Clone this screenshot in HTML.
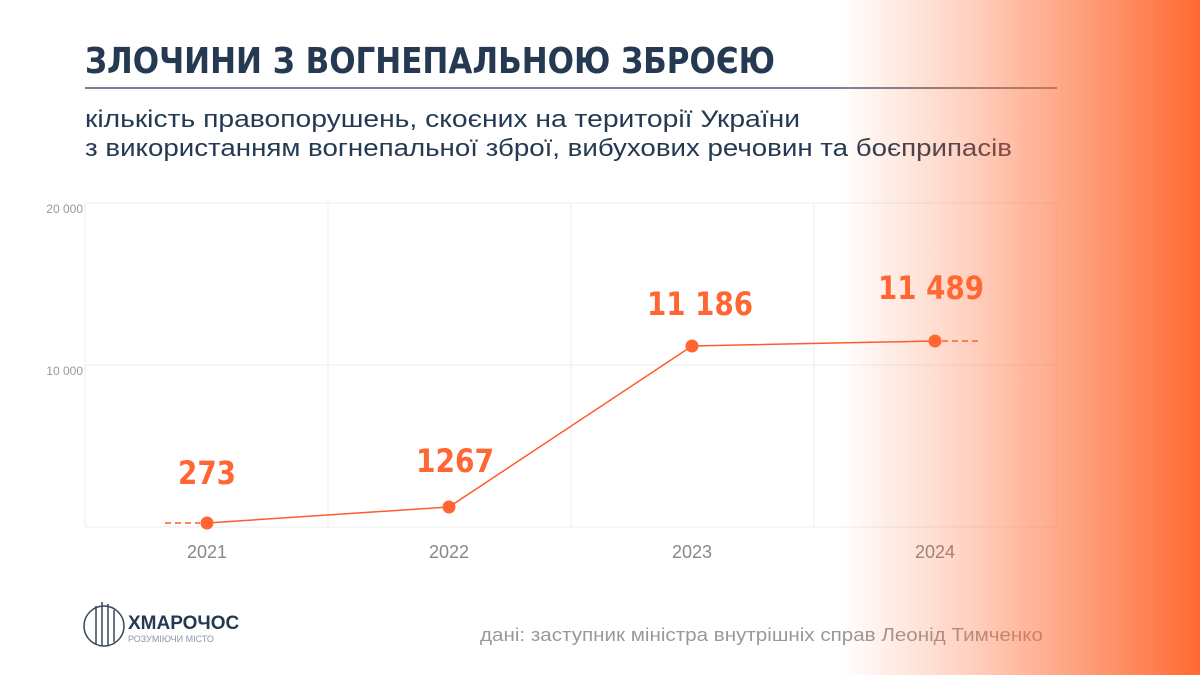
<!DOCTYPE html>
<html><head><meta charset="utf-8"><style>
html,body{margin:0;padding:0;width:1200px;height:675px;overflow:hidden;background:#fff}
svg{display:block}
</style></head><body>
<svg width="1200" height="675" viewBox="0 0 1200 675" xmlns="http://www.w3.org/2000/svg" font-family="Liberation Sans, DejaVu Sans, sans-serif">
<defs>
<linearGradient id="fade" x1="0" x2="1" y1="0" y2="0">
<stop offset="0" stop-color="#ff6a33" stop-opacity="0"/>
<stop offset="0.35" stop-color="#ff6a33" stop-opacity="0.3"/>
<stop offset="1" stop-color="#ff6a33" stop-opacity="1"/>
</linearGradient>
</defs>
<text x="85" y="73" font-size="36" font-weight="bold" font-family="DejaVu Sans, sans-serif" fill="#253a52" textLength="690" lengthAdjust="spacingAndGlyphs">ЗЛОЧИНИ З ВОГНЕПАЛЬНОЮ ЗБРОЄЮ</text>
<line x1="85" y1="88" x2="1057" y2="88" stroke="#4a5a6e" stroke-width="1.5"/>
<text x="85" y="127" font-size="24" fill="#253a52" textLength="715" lengthAdjust="spacingAndGlyphs">кількість правопорушень, скоєних на території України</text>
<text x="85" y="156" font-size="24" fill="#253a52" textLength="927" lengthAdjust="spacingAndGlyphs">з використанням вогнепальної зброї, вибухових речовин та боєприпасів</text>
<g stroke="#ececec" stroke-width="1">
<line x1="85" y1="203" x2="1057" y2="203"/>
<line x1="85" y1="365" x2="1057" y2="365"/>
<line x1="85" y1="527" x2="1057" y2="527"/>
<line x1="85" y1="203" x2="85" y2="527"/>
<line x1="328" y1="203" x2="328" y2="527"/>
<line x1="571" y1="203" x2="571" y2="527"/>
<line x1="814" y1="203" x2="814" y2="527"/>
<line x1="1057" y1="203" x2="1057" y2="527"/>
</g>
<g font-size="12" fill="#999" text-anchor="end">
<text x="83" y="213">20 000</text>
<text x="83" y="375">10 000</text>
</g>
<g font-size="18" fill="#888" text-anchor="middle">
<text x="207" y="558">2021</text>
<text x="449" y="558">2022</text>
<text x="692" y="558">2023</text>
<text x="935" y="558">2024</text>
</g>
<line x1="165" y1="523" x2="200" y2="523" stroke="#ff5a2a" stroke-width="1.5" stroke-dasharray="6,4"/>
<line x1="942" y1="341" x2="982" y2="341" stroke="#ff5a2a" stroke-width="1.5" stroke-dasharray="6,4"/>
<polyline points="207,523 449,507 692,346 935,341" fill="none" stroke="#ff5a2a" stroke-width="1.5"/>
<g fill="#ff6633">
<circle cx="207" cy="523" r="6.5"/><circle cx="449" cy="507" r="6.5"/>
<circle cx="692" cy="346" r="6.5"/><circle cx="935" cy="341" r="6.5"/>
</g>
<g font-size="32" font-weight="bold" font-family="DejaVu Sans, sans-serif" fill="#ff6633" text-anchor="middle">
<text x="207" y="484" textLength="58" lengthAdjust="spacingAndGlyphs">273</text>
<text x="455" y="472" textLength="78" lengthAdjust="spacingAndGlyphs">1267</text>
<text x="700" y="315" textLength="106" lengthAdjust="spacingAndGlyphs">11 186</text>
<text x="931" y="299" textLength="106" lengthAdjust="spacingAndGlyphs">11 489</text>
</g>
<g transform="translate(82,600)" fill="none" stroke="#3a4658" stroke-width="1.5">
<circle cx="22" cy="26" r="20"/>
<path d="M14 6 L14 44 M20 2 L20 46 M26 4 L26 46 M32 10 L32 42"/>
</g>
<text x="128" y="629" font-size="19" font-weight="bold" fill="#253a52">ХМАРОЧОС</text>
<text x="128" y="642" font-size="9" fill="#8a96a6">РОЗУМІЮЧИ МІСТО</text>
<text x="480" y="641" font-size="18" fill="#999" textLength="563" lengthAdjust="spacingAndGlyphs">дані: заступник міністра внутрішніх справ Леонід Тимченко</text>
<rect x="840" y="0" width="360" height="675" fill="url(#fade)"/>
</svg>
</body></html>
